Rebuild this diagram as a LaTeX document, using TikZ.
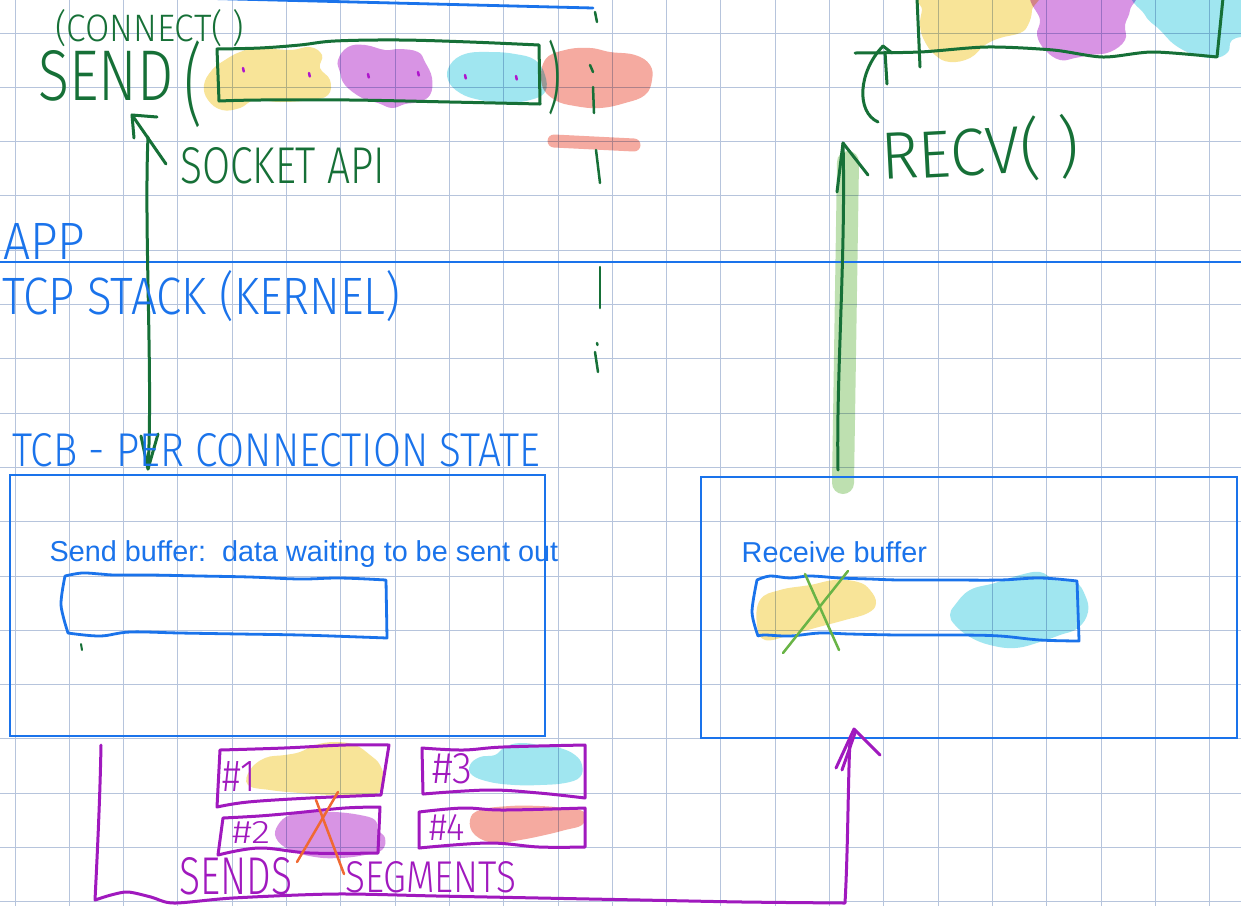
\documentclass[tikz,border=0pt]{standalone}
\usepackage{fontspec}
\usepackage{graphicx}
\newfontfamily\uifont{Liberation Sans}
\newfontfamily\handfont{Fira Sans Light}
\newcommand{\hw}[3]{\resizebox{#1}{#2}{\handfont #3}}
\newcommand{\hwp}[3]{\resizebox*{#1}{#2}{\handfont #3}}
\definecolor{gridc}{RGB}{182,196,220}
\definecolor{inkblue}{RGB}{26,115,235}
\definecolor{inkgreen}{RGB}{22,112,55}
\definecolor{inkpurple}{RGB}{160,25,190}
\definecolor{dotpurple}{RGB}{175,20,205}
\definecolor{hlyellow}{RGB}{248,228,152}
\definecolor{hlpurple}{RGB}{216,148,228}
\definecolor{hlcyan}{RGB}{160,230,240}
\definecolor{hlsalmon}{RGB}{245,170,160}
\definecolor{hlgreen}{RGB}{190,224,176}
\definecolor{xorange}{RGB}{240,105,50}
\definecolor{xgreen}{RGB}{105,180,70}
\begin{document}
\begin{tikzpicture}[x=1pt,y=-1pt,
  gridline/.style={draw=gridc, line width=0.9pt},
  inkg/.style={draw=inkgreen, line width=3pt, line cap=round, line join=round},
  inkb/.style={draw=inkblue, line width=2.8pt, line cap=round, line join=round},
  inkp/.style={draw=inkpurple, line width=3pt, line cap=round, line join=round},
  dotmark/.style={draw=dotpurple, line width=2.5pt, line cap=round},
  crossg/.style={draw=xgreen, line width=2.5pt, line cap=round},
  crosso/.style={draw=xorange, line width=2.5pt, line cap=round},
  hand/.style={inner sep=0pt, anchor=base west},
  bufbox/.style={draw=inkblue, line width=2.6pt, inner sep=0pt},
  uitext/.style={inner sep=0pt, anchor=base west, text=inkblue,
    font=\uifont\fontsize{28.8}{34}\selectfont},
]
\useasboundingbox (0,0) rectangle (1241,906);
\clip (0,0) rectangle (1241,906);
\fill[white] (0,0) rectangle (1241,906);

% squared paper
\foreach \i in {0,...,22} \draw[gridline] ({15+54.3*\i},0) -- ({15+54.3*\i},906);
\foreach \j in {0,...,16} \draw[gridline] (0,{33+54.3*\j}) -- (1241,{33+54.3*\j});

% highlighter marks
\begin{scope}[blend mode=multiply]
  % data chunks handed to send()
  \fill[hlyellow] plot[smooth cycle, tension=0.7] coordinates {(212,70) (225,60) (240,52) (258,48) (290,50) (310,47) (322,55) (320,68) (330,80) (328,95) (310,100) (280,102) (255,100) (240,108) (222,110) (208,100) (204,85)};
  \fill[hlpurple] plot[smooth cycle, tension=0.7] coordinates {(338,60) (348,47) (365,45) (385,50) (400,49) (418,52) (425,62) (432,78) (430,95) (418,102) (405,104) (392,108) (378,103) (362,98) (345,85) (340,72)};
  \fill[hlcyan] plot[smooth cycle, tension=0.7] coordinates {(450,65) (465,54) (490,52) (515,54) (535,60) (545,75) (545,92) (530,100) (505,103) (480,100) (460,93) (448,80)};
  \fill[hlsalmon] plot[smooth cycle, tension=0.7] coordinates {(545,60) (565,50) (590,48) (610,52) (635,55) (650,65) (652,80) (645,95) (625,103) (600,108) (575,106) (555,100) (542,85)};
  \draw[hlsalmon, line width=13pt, line cap=round] (554,141) -- (634,145);
  % data returned by recv()
  \fill[hlyellow] plot[smooth cycle, tension=0.7] coordinates {(922,10) (925,-8) (1030,-8) (1032,10) (1028,25) (1020,33) (1000,38) (985,45) (970,58) (950,62) (935,55) (924,40) (920,25)};
  \fill[hlpurple] plot[smooth cycle, tension=0.7] coordinates {(1037,-8) (1128,-8) (1130,10) (1125,25) (1125,40) (1110,52) (1090,55) (1075,58) (1060,60) (1045,50) (1037,35) (1040,20)};
  \fill[hlcyan] plot[smooth cycle, tension=0.7] coordinates {(1140,-8) (1250,-8) (1250,30) (1232,40) (1228,52) (1215,58) (1195,55) (1175,45) (1160,30) (1145,15)};
  % receive buffer contents
  \fill[hlyellow] plot[smooth cycle, tension=0.7] coordinates {(760,600) (780,590) (810,585) (835,580) (858,582) (870,590) (876,603) (868,613) (845,620) (815,628) (790,635) (765,640) (757,625)};
  \fill[hlcyan] plot[smooth cycle, tension=0.7] coordinates {(955,605) (970,590) (995,583) (1020,575) (1040,572) (1055,580) (1075,582) (1085,595) (1088,612) (1078,628) (1060,635) (1040,642) (1015,648) (990,645) (970,637) (955,625) (950,615)};
  % segments on the wire
  \fill[hlyellow] plot[smooth cycle, tension=0.7] coordinates {(250,770) (265,758) (285,755) (300,752) (315,745) (335,742) (355,745) (370,755) (380,765) (384,780) (380,792) (360,796) (330,795) (300,793) (270,790) (248,785)};
  \fill[hlpurple] plot[smooth cycle, tension=0.7] coordinates {(278,825) (290,815) (310,812) (335,812) (360,815) (375,820) (378,830) (385,838) (382,850) (365,855) (340,858) (315,857) (290,850) (276,838)};
  \fill[hlcyan] plot[smooth cycle, tension=0.7] coordinates {(470,765) (480,757) (495,755) (505,747) (520,743) (540,745) (560,748) (575,755) (582,765) (580,777) (565,783) (540,785) (515,785) (490,782) (472,775)};
  \fill[hlsalmon] plot[smooth cycle, tension=0.7] coordinates {(470,820) (480,810) (510,806) (540,806) (565,808) (580,810) (585,815) (582,825) (565,830) (545,835) (520,840) (495,843) (475,835)};
  % delivery to the application
  \draw[hlgreen, line width=22pt, line cap=round] (843,483) -- (848,162);
\end{scope}

% layer boundary
\draw[inkb] (194,-2) -- (593,8);
\draw[draw=inkblue, line width=2.6pt] (0,262) -- (1241,262);

% per-connection buffers
\node[bufbox, minimum width=535pt, minimum height=261pt] (sendbuf) at (277.5,605.5) {};
\node[bufbox, minimum width=536pt, minimum height=261pt] (recvbuf) at (969,607.5) {};
\node[uitext] (sendlbl) at (49.5,561.5) {\frenchspacing Send buffer:\ \ data waiting to be sent out};
\node[uitext] (recvlbl) at (741.5,562.5) {Receive buffer};

% hand-drawn buffer strips
\draw[inkb] plot[smooth, tension=0.6] coordinates {(65,576) (82,573) (100,574) (115,575) (150,575) (200,576) (250,577) (300,579) (340,578) (386,580)} -- (387,638) -- plot[smooth, tension=0.6] coordinates {(387,638) (360,637) (300,635) (240,634) (180,633) (130,632) (100,636) (68,633)} -- plot[smooth] coordinates {(68,633) (61,605) (65,576)};
\draw[inkb] plot[smooth, tension=0.6] coordinates {(757,580) (770,576) (790,578) (810,576) (840,578) (870,579) (900,580) (950,580) (1000,580) (1040,578) (1077,581)} -- (1079,640) -- plot[smooth, tension=0.6] coordinates {(1079,641) (1040,640) (1000,636) (960,635) (900,635) (850,634) (820,633) (790,636) (765,635) (758,636)} -- plot[smooth] coordinates {(758,636) (752,612) (757,580)};
\draw[inkg, line width=2pt] (81,644) -- (82,650);
\draw[crossg] (805,574) -- (839,650);
\draw[crossg] (848,571) -- (783,653);

% application side: send()
\node[hand, text=inkgreen] (connect) at (55,41) {\hw{189pt}{32pt}{(CONNECT( )}};
\node[hand, text=inkgreen] (send) at (38,100) {\hw{135pt}{50pt}{SEND}};
\node[inner sep=0pt, text=inkgreen] (sendlp) at (194,84) {\hwp{18pt}{87pt}{(}};
\node[inner sep=0pt, text=inkgreen] (sendrp) at (554,78) {\hwp{14pt}{75pt}{)}};
\draw[inkg] plot[smooth, tension=0.6] coordinates {(217,49) (260,48) (300,45) (335,41) (400,40) (470,42) (539,45)} -- (540,104) -- plot[smooth, tension=0.6] coordinates {(540,104) (450,102) (350,100) (260,100) (219,101)} -- cycle;
\foreach \p in {(243,68),(309,73),(368,74),(418,72),(465,75),(516,76)}
  \draw[dotmark] \p -- ++(0.8,3.5);
\node[hand, text=inkgreen] (api) at (180,183) {\hw{205pt}{36pt}{SOCKET API}};

\coordinate (apitail) at (166,164);
\coordinate (apitip) at (132,115);
\draw[inkg] (apitail) -- (apitip);
\draw[inkg] (134,138) -- (apitip) -- (157,117);
\coordinate (sendfoot) at (148,137);
\coordinate (tcbtip) at (148,469);
\draw[inkg] (sendfoot) .. controls (144,230) and (153,380) .. (tcbtip);
\draw[inkg] (141,436) -- (tcbtip) -- (158,434);

% dashed divider drawn by hand
\foreach \a/\b in {{(595,12)}/{(597,22)}, {(590,65)}/{(593,72)}, {(593,87)}/{(594,113)}, {(596,150)}/{(600,183)}, {(600,267)}/{(600,308)}, {(597,343)}/{(597.5,345)}, {(595,352)}/{(598,372)}}
  \draw[inkg, line width=2.5pt] \a -- \b;

% application side: recv()
\draw[inkg] (917,-2) -- (920,67);
\draw[inkg] plot[smooth] coordinates {(855,53) (920,52) (987,47) (1053,50) (1103,57) (1153,52) (1217,57)} -- (1223,-2);
\node[hand, text=inkgreen, rotate=3] (recv) at (882,180) {\hw{198pt}{56pt}{RECV( )}};
\coordinate (recvlp) at (878,122);
\coordinate (boxtip) at (883,46);
\draw[inkg] (recvlp) .. controls (856,112) and (858,72) .. (boxtip);
\draw[inkg] (boxtip) -- (892,53);
\draw[inkg] (885,52) -- (887,84);
\coordinate (rbtail) at (838,470);
\coordinate (recvtip) at (843,143);
\draw[inkg] (rbtail) .. controls (836,380) and (846,250) .. (recvtip);
\draw[inkg] (837,192) -- (recvtip) -- (868,175);

% layer names
\node[hand, text=inkblue] (app) at (3,259) {\hw{82pt}{36pt}{APP}};
\node[hand, text=inkblue] (stack) at (2,314) {\hw{398pt}{44pt}{TCP STACK (KERNEL)}};
\node[hand, text=inkblue] (tcb) at (12,466) {\hw{528pt}{33pt}{TCB - PER CONNECTION STATE}};

% segments
\draw[inkp] plot[smooth, tension=0.6] coordinates {(220,750) (284,748) (345,745) (389,745)} -- (381,795) -- plot[smooth, tension=0.6] coordinates {(381,795) (310,798) (248,802) (217,807)} -- cycle;
\draw[inkp] plot[smooth, tension=0.6] coordinates {(223,818) (259,816) (294,813) (345,808) (380,807)} -- (378,852) -- plot[smooth, tension=0.6] coordinates {(378,853) (310,853) (259,848) (218,855)} -- cycle;
\draw[inkp] plot[smooth, tension=0.6] coordinates {(422,748) (463,750) (503,747) (585,745)} -- (585,798) -- plot[smooth, tension=0.6] coordinates {(585,798) (539,793) (488,790) (423,794)} -- cycle;
\draw[inkp] plot[smooth, tension=0.6] coordinates {(419,812) (463,808) (503,810) (585,808)} -- (585,847) -- plot[smooth, tension=0.6] coordinates {(585,847) (539,847) (488,843) (419,848)} -- cycle;
\node[hand, text=inkpurple] (seg1) at (222,791) {\hw{34pt}{30pt}{\#1}};
\node[hand, text=inkpurple] (seg2) at (232,843) {\hw{38pt}{22pt}{\#2}};
\node[hand, text=inkpurple] (seg3) at (432,783) {\hw{40pt}{30pt}{\#3}};
\node[hand, text=inkpurple] (seg4) at (429,840) {\hw{36pt}{26pt}{\#4}};
\draw[crosso] (338,792) -- (297,862);
\draw[crosso] (316,800) -- (344,874);
\node[hand, text=inkpurple] (sends) at (179,894) {\hw{113pt}{37pt}{SENDS}};
\node[hand, text=inkpurple] (segments) at (345,892) {\hw{171pt}{31pt}{SEGMENTS}};

% path of the segments to the receiver
\coordinate (segstart) at (101,745);
\coordinate (segtip) at (854,729);
\draw[inkp] (segstart) .. controls (100,800) and (97,860) .. (95,900) -- plot[smooth] coordinates {(95,900) (111,895) (128,892) (151,897) (174,903) (233,898) (335,894) (437,896) (539,898) (641,900) (743,902) (845,903)} .. controls (848,850) and (848,780) .. (850,740);
\draw[inkp] (836,768) -- (segtip) -- (880,755);
\draw[inkp] (842,770) -- (855,733);
\end{tikzpicture}
\end{document}
